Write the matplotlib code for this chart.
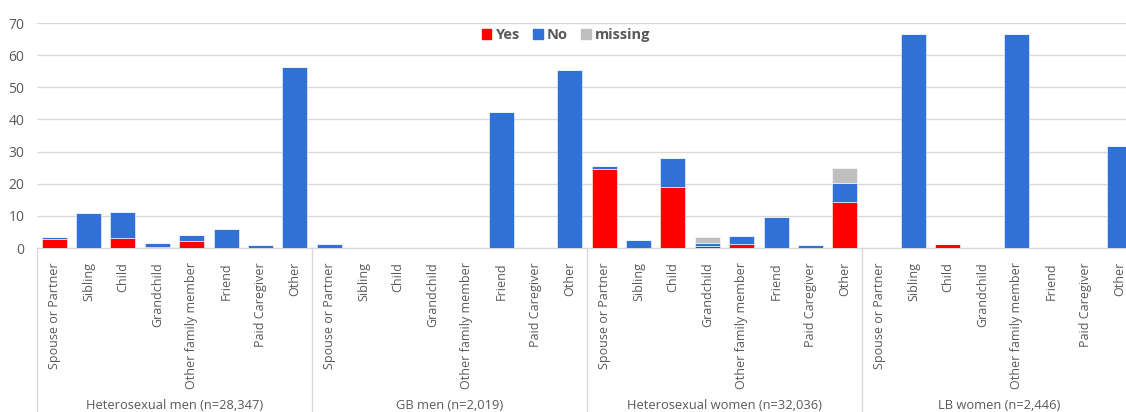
import numpy as np
import matplotlib.pyplot as plt
from matplotlib.patches import Patch
from matplotlib.transforms import blended_transform_factory

plt.rcParams['font.family'] = ['Open Sans', 'DejaVu Sans']

groups = ["Heterosexual men (n=28,347)", "GB men (n=2,019)",
          "Heterosexual women (n=32,036)", "LB women (n=2,446)"]
categories = ["Spouse or Partner", "Sibling", "Child", "Grandchild",
              "Other family member", "Friend", "Paid Caregiver", "Other"]

# values per group, in category order
yes = [2.9, 0, 3.2, 0.4, 2.3, 0, 0, 0,
       0, 0, 0, 0, 0, 0, 0, 0,
       24.6, 0, 18.9, 0.7, 1.2, 0, 0, 14.4,
       0, 0, 1.1, 0, 0, 0, 0, 0]
no = [0.5, 10.8, 7.9, 1.3, 1.6, 5.9, 0.8, 56.3,
      1.35, 0, 0, 0, 0, 42.4, 0, 55.5,
      0.8, 2.4, 9.2, 0.85, 2.5, 9.75, 0.9, 5.7,
      0, 66.6, 0, 0, 66.6, 0, 0, 31.6]
missing = [0, 0, 0, 0, 0, 0, 0, 0,
           0, 0, 0, 0, 0, 0, 0, 0,
           0, 0, 0, 1.85, 0, 0, 0, 4.9,
           0, 0, 0, 0, 0, 0, 0, 0]

RED = '#ff0000'
BLUE = '#3071d6'
GRAY = '#bfbfbf'
TXT = '#595959'
GRID = '#d9d9d9'

yes = np.array(yes)
no = np.array(no)
missing = np.array(missing)
x = np.arange(len(yes))

fig = plt.figure(figsize=(11.26, 4.12), dpi=100)
ax = fig.add_axes([37 / 1126, 164 / 412, 1100 / 1126, 225 / 412])

w = 0.73
ax.bar(x, yes, w, color=RED, edgecolor='#ffffff', linewidth=0.4, zorder=3)
ax.bar(x, no, w, bottom=yes, color=BLUE, edgecolor='#ffffff', linewidth=0.4, zorder=3)
ax.bar(x, missing, w, bottom=yes + no, color=GRAY, edgecolor='#ffffff', linewidth=0.4, zorder=3)

ax.set_xlim(-0.5, len(x) - 0.5)
ax.set_ylim(0, 70)
ax.set_yticks(range(0, 71, 10))
ax.yaxis.grid(True, color=GRID, linewidth=1)
ax.set_axisbelow(True)
for s in ['left', 'right', 'top']:
    ax.spines[s].set_visible(False)
ax.spines['bottom'].set_color(GRID)
ax.tick_params(axis='y', length=0, pad=9, labelsize=10, labelcolor=TXT)

ax.set_xticks(x)
ax.set_xticklabels(categories * len(groups), rotation=90, fontsize=9, color=TXT)
ax.tick_params(axis='x', length=0, pad=10)

# group labels and separators under the axis
tr = blended_transform_factory(ax.transData, ax.transAxes)
n = len(categories)
for i, g in enumerate(groups):
    ax.text(i * n + (n - 1) / 2, -0.698, g, transform=tr, ha='center', va='center',
            fontsize=9.3, color=TXT)
for i in range(len(groups) + 1):
    ax.plot([i * n - 0.5, i * n - 0.5], [0, -0.74], transform=tr, color=GRID,
            linewidth=1, clip_on=False)

handles = [Patch(color=RED), Patch(color=BLUE), Patch(color=GRAY)]
leg = ax.legend(handles, ['Yes', 'No', 'missing'], loc='center', bbox_to_anchor=(0.481, 0.947),
                ncol=3, frameon=False, handlelength=0.65, handleheight=0.65,
                handletextpad=0.3, columnspacing=0.9,
                prop={'weight': 'bold', 'size': 10.5})
for t in leg.get_texts():
    t.set_color(TXT)

fig.savefig('out.png', dpi=100)
